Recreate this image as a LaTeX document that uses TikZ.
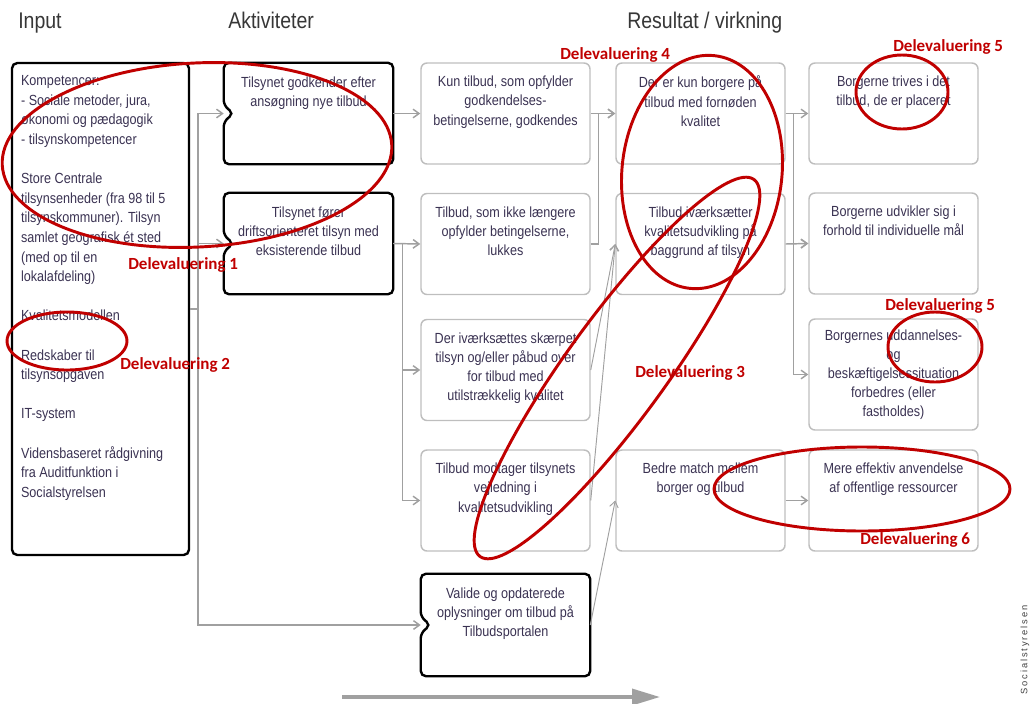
\documentclass[tikz,border=0pt]{standalone}
\usepackage{fontspec}
\setmainfont[FakeStretch=0.86]{Liberation Sans}
\newfontfamily\labfont{Carlito}
\newfontfamily\spfont[LetterSpace=20]{Liberation Sans}
\usetikzlibrary{arrows.meta,calc}
\definecolor{txt}{RGB}{58,50,82}
\definecolor{hdr}{RGB}{55,55,55}
\definecolor{dred}{RGB}{192,0,0}
\definecolor{gline}{RGB}{160,160,160}
\definecolor{gbord}{RGB}{190,190,190}
\begin{document}
\begin{tikzpicture}[x=0.75pt,y=-0.75pt,
  gbox/.style={draw=gbord, line width=1.1pt, rounded corners=4.5pt, minimum width=126.75pt, minimum height=75.75pt, inner sep=0pt},
  bshape/.style={inner sep=0pt, minimum width=126.75pt, minimum height=75.75pt},
  bline/.style={draw=black, line width=1.8pt, rounded corners=4pt},
  btxt/.style={anchor=north, inner sep=0pt, align=center, text=txt, font=\fontsize{11pt}{14.4pt}\selectfont, yshift=-10.2pt},
  conn/.style={draw=gline, line width=1.1pt, -{Straight Barb[length=4.5pt,width=6.5pt]}},
  hd/.style={anchor=base west, inner sep=0pt, text=hdr, font=\fontsize{17pt}{18pt}\selectfont},
  lab/.style={anchor=base west, inner sep=0pt, text=dred, font=\labfont\bfseries\fontsize{12.75pt}{14pt}\selectfont},
  rell/.style={draw=dred, line width=2.2pt}
]
\useasboundingbox (0,0) rectangle (1033,704);

% headers
\node[hd] (h1) at (18,28) {Input};
\node[hd] (h2) at (228,28) {Aktiviteter};
\node[hd] (h3) at (627,28) {Resultat / virkning};

% input box
\node[draw=black, line width=1.8pt, rounded corners=4pt, inner sep=0pt, minimum width=132.75pt, minimum height=369pt] (inp) at (100.5,309) {};
\node[anchor=north west, inner sep=0pt, align=left, text=txt, font=\fontsize{11pt}{14.7pt}\selectfont] (inpt) at ([xshift=7.5pt,yshift=-10.2pt]inp.north west)
{Kompetencer:\\- Sociale metoder, jura,\\økonomi og pædagogik\\- tilsynskompetencer\\[14.7pt]Store Centrale\\tilsynsenheder (fra 98 til 5\\tilsynskommuner). Tilsyn\\samlet geografisk ét sted\\(med op til en\\lokalafdeling)\\[14.7pt]Kvalitetsmodellen\\[14.7pt]Redskaber til\\tilsynsopgaven\\[14.7pt]IT-system\\[14.7pt]Vidensbaseret rådgivning\\fra Auditfunktion i\\Socialstyrelsen};

% black notched boxes
\node[bshape] (a1) at (308.5,113.5) {};
\node[bshape] (a2) at (308.5,243.5) {};
\node[bshape, minimum height=76.5pt] (val) at (505.5,625) {};
\foreach \b in {a1,a2,val}{
  \draw[bline] ([xshift=7.5pt]\b.west) -- ([yshift=6pt]\b.west) -- (\b.north west) -- (\b.north east) -- (\b.south east) -- (\b.south west) -- ([yshift=-6pt]\b.west) -- cycle;
}
\node[btxt] (a1t) at (a1.north) {Tilsynet godkender efter\\ansøgning nye tilbud};
\node[btxt] (a2t) at (a2.north) {Tilsynet fører\\driftsorienteret tilsyn med\\eksisterende tilbud};
\node[btxt] (valt) at (val.north) {Valide og opdaterede\\oplysninger om tilbud på\\Tilbudsportalen};

% middle column
\node[gbox] (m1) at (505.5,113.5) {};
\node[gbox] (m2) at (505.5,244) {};
\node[gbox] (m3) at (505.5,370) {};
\node[gbox] (m4) at (505.5,500.5) {};
\node[btxt] (m1t) at (m1.north) {Kun tilbud, som opfylder\\godkendelses-\\betingelserne, godkendes};
\node[btxt] (m2t) at (m2.north) {Tilbud, som ikke længere\\opfylder betingelserne,\\lukkes};
\node[btxt] (m3t) at (m3.north) {Der iværksættes skærpet\\tilsyn og/eller påbud over\\for tilbud med\\utilstrækkelig kvalitet};
\node[btxt] (m4t) at (m4.north) {Tilbud modtager tilsynets\\vejledning i\\kvalitetsudvikling};

% result column 1
\node[gbox] (r1) at (700.5,113.5) {};
\node[gbox] (r2) at (700.5,244) {};
\node[gbox] (r3) at (700.5,500.5) {};
\node[btxt] (r1t) at (r1.north) {Der er kun borgere på\\tilbud med fornøden\\kvalitet};
\node[btxt] (r2t) at (r2.north) {Tilbud iværksætter\\kvalitetsudvikling på\\baggrund af tilsyn};
\node[btxt] (r3t) at (r3.north) {Bedre match mellem\\borger og tilbud};

% result column 2
\node[gbox] (s1) at (893.5,113.5) {};
\node[gbox] (s2) at (893.5,243.5) {};
\node[gbox, minimum height=83.25pt] (s3) at (893.5,374.5) {};
\node[gbox] (s4) at (893.5,500.5) {};
\node[btxt] (s1t) at (s1.north) {Borgerne trives i det\\tilbud, de er placeret};
\node[btxt] (s2t) at (s2.north) {Borgerne udvikler sig i\\forhold til individuelle mål};
\node[btxt, yshift=2pt] (s3t) at (s3.north) {Borgernes uddannelses-\\og\\beskæftigelsessituation\\forbedres (eller\\fastholdes)};
\node[btxt] (s4t) at (s4.north) {Mere effektiv anvendelse\\af offentlige ressourcer};

% connectors
\draw[conn] (inp.east) -- ++(8,0) |- (a1.west);
\draw[conn] (inp.east) -- ++(8,0) |- (a2.west);
\draw[conn] (inp.east) -- ++(8,0) |- (val.west);
\draw[conn] (a1.east) -- (m1.west);
\draw[conn] (a2.east) -- (m2.west);
\draw[conn] (a2.east) -- ++(9,0) |- (m3.west);
\draw[conn] (a2.east) -- ++(9,0) |- (m4.west);
\draw[conn] (m1.east) -- (r1.west);
\draw[conn] (m2.east) -- ++(8,0) |- (r1.west);
\draw[conn, line width=0.7pt] (m3.east) -- (r2.west);
\draw[conn, line width=0.7pt] (m4.east) -- (r2.west);
\draw[conn, line width=0.7pt] (val.east) -- (r3.west);
\draw[conn] (r1.east) -- (s1.west);
\draw[conn] (r1.east) -- ++(8,0) |- (s2.west);
\draw[conn] (r1.east) -- ++(8,0) |- (s3.west);
\draw[conn] (r2.east) -- (s2.west);
\draw[conn] (r3.east) -- (s4.west);

% bottom arrow
\coordinate (b0) at (342,697);
\coordinate (b1) at (660,697);
\draw[draw=gline, line width=2.6pt, -{Triangle[length=21pt,width=12pt]}] (b0) -- (b1);

% Socialstyrelsen
\node[rotate=90, inner sep=0pt, text=black!75, font=\spfont\fontsize{7pt}{8pt}\selectfont] (soc) at (1025,650) {Socialstyrelsen};

% red ellipses
\draw[rell, rotate around={3:(197,155)}] (197,155) ellipse [x radius=195, y radius=92];
\draw[rell] (67,341) ellipse [x radius=60, y radius=29];
\draw[rell, rotate around={54:(617,368)}] (617,368) ellipse [x radius=233, y radius=50];
\draw[rell, rotate around={-6:(702,172)}] (702,172) ellipse [x radius=80, y radius=117];
\draw[rell] (902,92) ellipse [x radius=46, y radius=37];
\draw[rell] (935,347) ellipse [x radius=47, y radius=35];
\draw[rell] (862,489) ellipse [x radius=148, y radius=42];

% red labels
\node[lab] (d1) at (128,269) {Delevaluering 1};
\node[lab] (d2) at (120,369) {Delevaluering 2};
\node[lab] (d3) at (635,377) {Delevaluering 3};
\node[lab] (d4) at (560,59) {Delevaluering 4};
\node[lab] (d5a) at (893,51) {Delevaluering 5};
\node[lab] (d5b) at (885,310) {Delevaluering 5};
\node[lab] (d6) at (860,544) {Delevaluering 6};
\end{tikzpicture}
\end{document}
